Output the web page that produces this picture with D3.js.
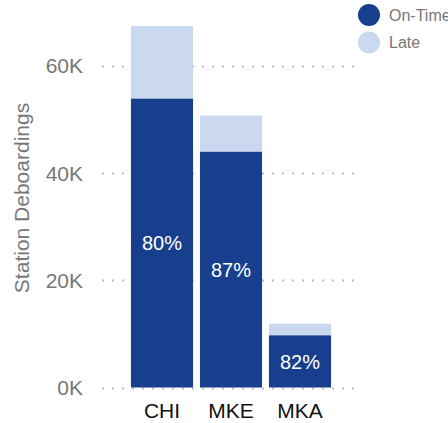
<!DOCTYPE html>
<html lang="en">
<head>
    <meta charset="utf-8">
    <title>Station Deboardings</title>
    <style>
        body {
            margin: 0;
            font-family: Arial, "Liberation Sans", sans-serif;
        }
        svg { display: block; }
    </style>
</head>
<body>
    <div id="chart"></div>
    <script src="https://d3js.org/d3.v7.min.js"></script>
    <script>
        // Data
        const stations = ["CHI", "MKE", "MKA"];
        const onTime = [53900, 44000, 9750];
        const late = [13500, 6700, 2150];
        const yTicks = [0, 20000, 40000, 60000];
        const seriesNames = ["On-Time", "Late"];
        const seriesColors = ["#183f8d", "#cad9f0"];

        const width = 448, height = 423;

        const svg = d3.select("#chart")
            .append("svg")
            .attr("width", width)
            .attr("height", height);

        const rows = stations.map((s, i) => ({ station: s, onTime: onTime[i], late: late[i] }));
        const totals = rows.map(d => d.onTime + d.late);

        const x = d3.scaleBand()
            .domain(stations)
            .range([127.5, 334.5])
            .paddingInner(0.1)
            .paddingOuter(0.05);

        const y = d3.scaleLinear()
            .domain([0, d3.max(totals)])
            .range([387.5, 26]);

        // Dotted gridlines
        svg.append("g")
            .selectAll("line")
            .data(yTicks)
            .join("line")
            .attr("x1", 102)
            .attr("x2", 362)
            .attr("y1", d => Math.round(y(d)) + 0.5)
            .attr("y2", d => Math.round(y(d)) + 0.5)
            .attr("stroke", "#bdbdbd")
            .attr("stroke-width", 2)
            .attr("stroke-dasharray", "2 8");

        // Tick labels
        svg.append("g")
            .selectAll("text")
            .data(yTicks)
            .join("text")
            .attr("x", 83)
            .attr("y", d => y(d))
            .attr("dy", "0.36em")
            .attr("text-anchor", "end")
            .attr("fill", "#777")
            .style("font-size", "21px")
            .text(d => d3.format("d")(d / 1000) + "K");

        // Stacked bars
        const stack = d3.stack().keys(["onTime", "late"]);
        const layers = stack(rows);

        svg.append("g")
            .selectAll("g")
            .data(layers)
            .join("g")
            .attr("fill", (d, i) => seriesColors[i])
            .selectAll("rect")
            .data(d => d)
            .join("rect")
            .attr("x", d => x(d.data.station))
            .attr("width", x.bandwidth())
            .attr("y", d => y(d[1]))
            .attr("height", d => y(d[0]) - y(d[1]));

        // Percent labels in the on-time segment
        svg.append("g")
            .selectAll("text")
            .data(rows)
            .join("text")
            .attr("x", d => x(d.station) + x.bandwidth() / 2)
            .attr("y", d => (y(0) + y(d.onTime)) / 2)
            .attr("dy", "0.36em")
            .attr("text-anchor", "middle")
            .attr("fill", "#fff")
            .style("font-size", "20px")
            .text(d => Math.round(100 * d.onTime / (d.onTime + d.late)) + "%");

        // Category labels
        svg.append("g")
            .selectAll("text")
            .data(stations)
            .join("text")
            .attr("x", d => x(d) + x.bandwidth() / 2)
            .attr("y", 417.5)
            .attr("text-anchor", "middle")
            .attr("fill", "#111")
            .style("font-size", "21px")
            .text(d => d);

        // Axis title
        svg.append("text")
            .attr("transform", "translate(21,198) rotate(-90)")
            .attr("dy", "0.36em")
            .attr("text-anchor", "middle")
            .attr("fill", "#777")
            .style("font-size", "21px")
            .text("Station Deboardings");

        // Legend
        const legend = svg.append("g")
            .selectAll("g")
            .data(seriesNames)
            .join("g")
            .attr("transform", (d, i) => `translate(369,${15 + i * 27.5})`);

        legend.append("circle")
            .attr("r", 11)
            .attr("fill", (d, i) => seriesColors[i]);

        legend.append("text")
            .attr("x", 20)
            .attr("dy", "0.36em")
            .attr("fill", "#777")
            .style("font-size", "16px")
            .text(d => d);
    </script>
</body>
</html>
